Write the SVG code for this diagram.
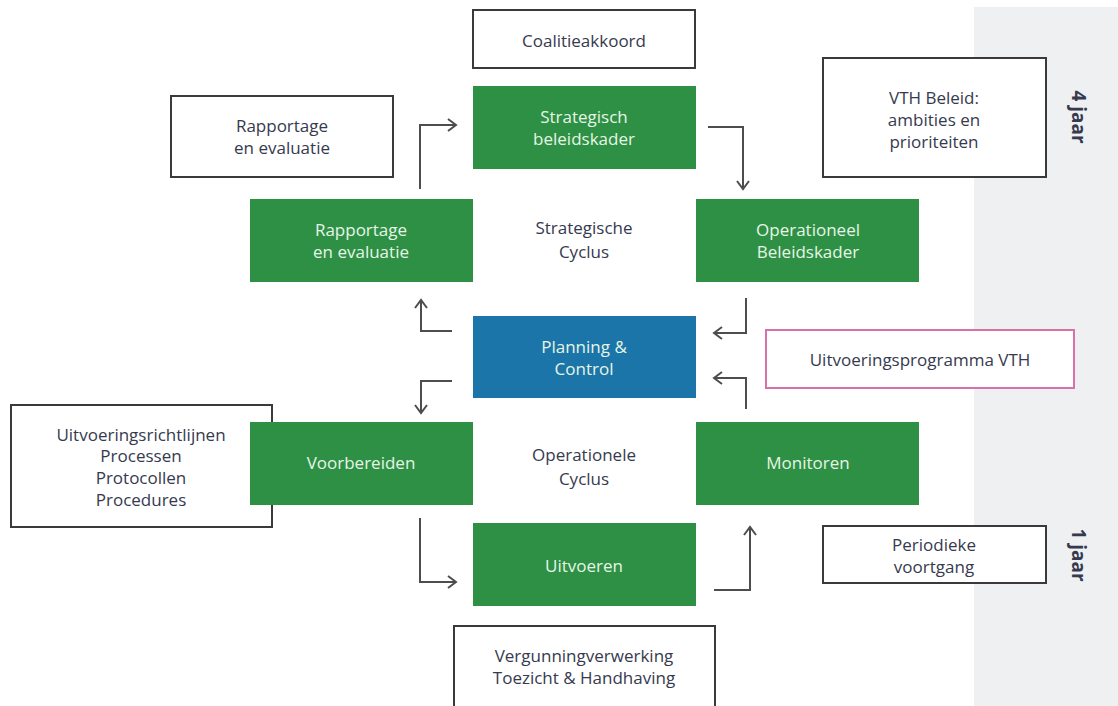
<svg xmlns="http://www.w3.org/2000/svg" width="1118" height="706" viewBox="0 0 1118 706">
<style>
.g{fill:#2e9045}
.b{fill:#1b75a8}
.w{fill:#fff;stroke:#3a3a3a;stroke-width:2}
.p{fill:#fff;stroke:#d672a8;stroke-width:2}
text{font-family:"Open Sans",Lato,"Liberation Sans",sans-serif;font-size:17px;font-weight:500;text-anchor:middle}
.tw{fill:#e6f6e6}
.td{fill:#363a4e}
.tb{font-weight:bold;font-size:19px}
.c{fill:none;stroke:#4d4d4d;stroke-width:2;marker-end:url(#ah)}
</style>
<defs>
<marker id="ah" markerUnits="userSpaceOnUse" markerWidth="12" markerHeight="14" refX="9" refY="7" orient="auto" viewBox="0 0 12 14">
<path d="M1,1 L9,7 L1,13" fill="none" stroke="#4d4d4d" stroke-width="2"/>
</marker>
</defs>
<rect x="0" y="0" width="1118" height="706" fill="#fff"/>
<rect x="974" y="7" width="144" height="699" fill="#eff0f2"/>

<g id="coalitieakkoord"><rect class="w" x="473" y="10" width="222" height="58"/><text class="td" x="584" y="47">Coalitieakkoord</text></g>
<g id="strategisch-beleidskader"><rect class="g" x="473" y="86" width="223" height="83"/><text class="tw" x="584" y="123">Strategisch</text><text class="tw" x="584" y="145">beleidskader</text></g>
<g id="rapportage-note"><rect class="w" x="171" y="96" width="222" height="81"/><text class="td" x="282" y="132">Rapportage</text><text class="td" x="282" y="154">en evaluatie</text></g>
<g id="vth-beleid"><rect class="w" x="823" y="58" width="223" height="119"/><text class="td" x="934" y="104">VTH Beleid:</text><text class="td" x="934" y="126">ambities en</text><text class="td" x="934" y="148">prioriteiten</text></g>
<g id="rapportage-evaluatie"><rect class="g" x="250" y="199" width="223" height="83"/><text class="tw" x="361" y="236">Rapportage</text><text class="tw" x="361" y="258">en evaluatie</text></g>
<g id="strategische-cyclus"><text class="td" x="584" y="234">Strategische</text><text class="td" x="584" y="258">Cyclus</text></g>
<g id="operationeel-beleidskader"><rect class="g" x="696" y="199" width="223" height="83"/><text class="tw" x="808" y="236">Operationeel</text><text class="tw" x="808" y="258">Beleidskader</text></g>
<g id="planning-control"><rect class="b" x="473" y="316" width="223" height="82"/><text class="tw" x="584" y="353">Planning &amp;</text><text class="tw" x="584" y="375">Control</text></g>
<g id="uitvoeringsprogramma"><rect class="p" x="766" y="330" width="308" height="58"/><text class="td" x="920" y="366">Uitvoeringsprogramma VTH</text></g>
<g id="uitvoeringsrichtlijnen"><rect class="w" x="11" y="405" width="261" height="122"/><text class="td" x="141" y="441">Uitvoeringsrichtlijnen</text><text class="td" x="141" y="462">Processen</text><text class="td" x="141" y="484">Protocollen</text><text class="td" x="141" y="506">Procedures</text></g>
<g id="voorbereiden"><rect class="g" x="250" y="422" width="223" height="83"/><text class="tw" x="361" y="469">Voorbereiden</text></g>
<g id="operationele-cyclus"><text class="td" x="584" y="461">Operationele</text><text class="td" x="584" y="485">Cyclus</text></g>
<g id="monitoren"><rect class="g" x="696" y="422" width="223" height="83"/><text class="tw" x="808" y="469">Monitoren</text></g>
<g id="uitvoeren"><rect class="g" x="473" y="523" width="223" height="83"/><text class="tw" x="584" y="572">Uitvoeren</text></g>
<g id="periodieke-voortgang"><rect class="w" x="823" y="526" width="223" height="57"/><text class="td" x="934" y="551">Periodieke</text><text class="td" x="934" y="573">voortgang</text></g>
<g id="vergunningverwerking"><rect class="w" x="454" y="626" width="261" height="90"/><text class="td" x="584" y="662">Vergunningverwerking</text><text class="td" x="584" y="684">Toezicht &amp; Handhaving</text></g>
<g id="label-4jaar"><text class="td tb" transform="translate(1072,117) rotate(90)">4 jaar</text></g>
<g id="label-1jaar"><text class="td tb" transform="translate(1072,555) rotate(90)">1 jaar</text></g>

<g id="connectors">
<path class="c" d="M420,189 V125 H456"/>
<path class="c" d="M708,127 H743 V189"/>
<path class="c" d="M746,298 V333 H714"/>
<path class="c" d="M452,331 H421 V300"/>
<path class="c" d="M452,381 H421 V413"/>
<path class="c" d="M746,409 V378 H714"/>
<path class="c" d="M420,518 V582 H456"/>
<path class="c" d="M714,590 H750 V527"/>
</g>
</svg>
